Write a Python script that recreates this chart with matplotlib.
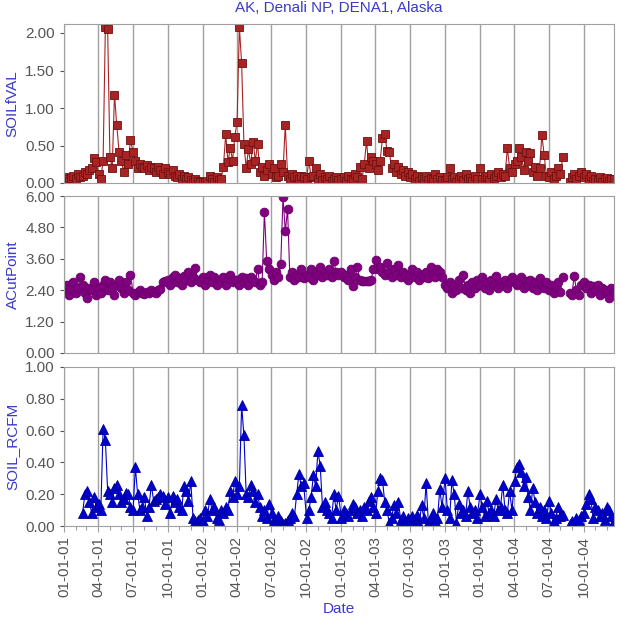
import numpy as np
import pandas as pd
import matplotlib
matplotlib.use("Agg")
import matplotlib.pyplot as plt
import matplotlib.dates as mdates
from matplotlib.ticker import FormatStrFormatter

nan = np.nan

# one row per quarter (2001 Q1 ... 2004 Q4), samples every 6 days
soil_fval = [
    [0.08, 0.05, 0.03, 0.07, 0.10, 0.06, 0.12, 0.08, 0.10, 0.15, 0.12, 0.18, 0.20, 0.33, 0.28],
    [0.12, 0.05, 0.30, 2.08, 2.05, 0.35, 0.20, 1.18, 0.77, 0.42, 0.30, 0.15, 0.38, 0.25, 0.57],
    [0.42, 0.30, 0.20, 0.25, 0.22, 0.20, 0.24, 0.18, 0.22, 0.20, 0.15, 0.22, 0.18, 0.12, 0.20],
    [0.15, 0.12, 0.18, 0.10, 0.08, 0.12, 0.05, 0.10, 0.06, 0.08, 0.04, 0.02, 0.05, 0.03, 0.01],
    [0.02, 0.01, 0.03, 0.10, 0.05, 0.02, 0.08, 0.04, 0.06, 0.22, 0.65, 0.28, 0.47, 0.30, 0.62],
    [0.82, 2.08, 1.60, 0.52, 0.20, 0.45, 0.25, 0.55, 0.30, 0.52, 0.15, 0.22, 0.10, 0.18, 0.25],
    [0.12, 0.20, 0.08, 0.10, 0.25, 0.15, 0.78, 0.10, 0.05, 0.12, 0.08, 0.10, 0.05, 0.10, 0.08],
    [0.05, 0.30, 0.08, 0.10, 0.20, 0.06, 0.12, 0.04, 0.08, 0.05, 0.10, 0.03, 0.06, 0.08, 0.04],
    [0.05, 0.08, 0.03, 0.10, 0.06, 0.04, 0.12, 0.08, 0.22, 0.05, 0.25, 0.56, 0.20, 0.35, 0.30],
    [0.25, 0.18, 0.30, 0.60, 0.66, 0.43, 0.42, 0.20, 0.25, 0.15, 0.22, 0.12, 0.18, 0.10, 0.15],
    [0.08, 0.12, 0.05, 0.10, 0.03, 0.08, 0.06, 0.10, 0.04, 0.07, 0.05, 0.12, 0.06, 0.08, 0.04],
    [0.03, 0.08, 0.20, 0.05, 0.08, 0.02, 0.06, 0.10, 0.04, 0.12, 0.05, 0.07, 0.03, 0.09, 0.05],
    [0.20, 0.05, 0.08, 0.10, 0.04, 0.12, 0.07, 0.10, 0.15, 0.08, 0.12, 0.10, 0.47, 0.20, 0.15],
    [0.25, 0.30, 0.47, 0.35, 0.18, 0.42, 0.30, 0.40, 0.15, 0.22, 0.10, 0.20, 0.64, 0.37, 0.10],
    [0.08, 0.15, 0.05, 0.10, 0.20, 0.12, 0.35, nan, nan, 0.02, 0.08, 0.12, 0.05, 0.10, 0.15],
    [0.08, 0.12, 0.05, 0.10, 0.03, 0.06, 0.04, 0.08, 0.02, 0.05, 0.07, 0.03, 0.06, 0.05],
]

acut_point = [
    [2.4, 2.6, 2.2, 2.5, 2.7, 2.3, 2.5, 2.9, 2.6, 2.3, 2.1, 2.5, 2.4, 2.7, 2.2],
    [2.5, 2.3, 2.6, 2.8, 2.4, 2.7, 2.5, 2.2, 2.6, 2.8, 2.5, 2.3, 2.7, 2.4, 3.0],
    [2.3, 2.2, 2.35, 2.4, 2.3, 2.25, 2.35, 2.3, 2.4, 2.35, 2.3, 2.4, 2.45, 2.7, 2.75],
    [2.8, 2.6, 2.9, 3.0, 2.7, 2.85, 2.6, 2.95, 2.8, 3.1, 2.7, 2.9, 3.25, 2.8, 2.7],
    [2.9, 2.6, 2.8, 3.0, 2.7, 2.9, 2.6, 2.8, 2.75, 2.9, 2.6, 2.85, 3.0, 2.7, 2.8],
    [2.8, 2.6, 2.9, 2.7, 2.85, 2.6, 2.9, 2.8, 2.7, 3.2, 2.6, 2.7, 5.4, 3.5, 3.2],
    [3.0, 2.8, 3.1, 2.9, 3.4, 5.95, 4.65, 5.5, 2.9, 3.1, 2.8, 3.0, 2.9, 3.2, 2.85],
    [3.0, 2.9, 3.2, 2.8, 3.1, 3.0, 3.3, 2.9, 3.1, 3.0, 3.2, 2.9, 3.5, 3.1, 3.0],
    [3.1, 2.9, 3.0, 2.8, 3.2, 2.55, 2.9, 3.3, 2.8, 2.75, 2.75, 2.75, 2.75, 2.8, 3.2],
    [3.55, 3.2, 3.3, 3.1, 3.0, 3.45, 3.1, 2.9, 3.2, 3.0, 3.35, 2.9, 3.1, 3.0, 2.8],
    [3.0, 3.2, 2.9, 3.1, 2.8, 3.0, 2.9, 3.1, 2.85, 3.3, 3.0, 2.9, 3.2, 3.1, 2.9],
    [2.6, 2.5, 2.7, 2.3, 2.6, 2.4, 2.8, 2.5, 3.0, 2.4, 2.6, 2.3, 2.7, 2.5, 2.8],
    [2.6, 2.9, 2.5, 2.7, 2.4, 2.8, 2.6, 2.95, 2.5, 2.7, 2.6, 2.8, 2.5, 2.7, 2.9],
    [2.8, 2.6, 2.7, 2.9, 2.5, 2.75, 2.6, 2.8, 2.5, 2.7, 2.4, 2.85, 2.6, 2.5, 2.7],
    [2.4, 2.6, 2.3, 2.5, 2.7, 2.35, 2.9, nan, nan, 2.3, 2.2, 2.95, 2.4, 2.2, 2.6],
    [2.7, 2.5, 2.6, 2.3, 2.55, 2.4, 2.6, 2.2, 2.5, 2.4, 2.3, 2.1, 2.5, 2.3],
]

soil_rcfm = [
    [nan, nan, nan, nan, nan, nan, nan, nan, 0.08, 0.20, 0.22, 0.15, 0.08, 0.18, 0.12],
    [0.14, 0.10, 0.61, 0.54, 0.22, 0.20, 0.15, 0.24, 0.26, 0.20, 0.15, 0.17, 0.21, 0.20, 0.12],
    [0.10, 0.37, 0.20, 0.10, 0.12, 0.18, 0.06, 0.12, 0.26, 0.16, 0.17, 0.18, 0.20, 0.19, 0.14],
    [0.18, 0.08, 0.19, 0.15, 0.17, 0.12, 0.10, 0.25, 0.22, 0.16, 0.28, 0.05, 0.03, 0.04, 0.05],
    [0.03, 0.10, 0.06, 0.17, 0.10, 0.12, 0.05, 0.04, 0.10, 0.08, 0.12, 0.10, 0.22, 0.18, 0.28],
    [0.20, 0.25, 0.76, 0.57, 0.20, 0.18, 0.26, 0.22, 0.15, 0.20, 0.12, 0.06, 0.10, 0.05, 0.14],
    [0.08, 0.04, 0.02, 0.06, 0.03, 0.01, 0.02, 0.04, 0.05, 0.08, 0.06, 0.20, 0.33, 0.25, 0.27],
    [0.05, 0.10, 0.18, 0.32, 0.25, 0.47, 0.38, 0.12, 0.15, 0.10, 0.08, 0.05, 0.20, 0.10, 0.19],
    [0.05, 0.10, 0.08, 0.06, 0.10, 0.14, 0.12, 0.08, 0.10, 0.06, 0.12, 0.10, 0.16, 0.18, 0.12],
    [0.08, 0.22, 0.30, 0.29, 0.15, 0.10, 0.02, 0.05, 0.13, 0.08, 0.15, 0.04, 0.06, 0.03, 0.05],
    [0.02, 0.06, 0.03, 0.07, 0.01, 0.13, 0.05, 0.27, 0.02, 0.05, 0.08, 0.03, 0.05, 0.23, 0.12],
    [0.30, 0.10, 0.05, 0.29, 0.20, 0.02, 0.14, 0.08, 0.10, 0.06, 0.22, 0.12, 0.08, 0.10, 0.05],
    [0.20, 0.12, 0.06, 0.16, 0.08, 0.10, 0.06, 0.17, 0.10, 0.12, 0.26, 0.10, 0.08, 0.22, 0.10],
    [0.28, 0.37, 0.39, 0.34, 0.25, 0.31, 0.18, 0.10, 0.24, 0.15, 0.08, 0.12, 0.06, 0.10, 0.05],
    [0.16, 0.08, 0.03, 0.05, 0.12, 0.06, 0.07, nan, nan, 0.01, 0.03, 0.02, 0.05, 0.04, 0.06],
    [0.08, 0.14, 0.20, 0.17, 0.05, 0.12, 0.10, 0.06, 0.08, 0.04, 0.12, 0.10, 0.06, 0.03],
]

quarter_starts = pd.date_range("2001-01-01", periods=16, freq="QS")


def to_series(rows):
    dates, vals = [], []
    for start, row in zip(quarter_starts, rows):
        dates.extend(start + pd.to_timedelta(1 + 6 * np.arange(len(row)), unit="D"))
        vals.extend(row)
    return pd.Series(vals, index=pd.DatetimeIndex(dates))


plt.rcParams["font.family"] = ["Liberation Sans", "DejaVu Sans"]
label_blue = "#3a3ac8"
tick_gray = "#555555"
frame_gray = "#a0a0a0"

fig = plt.figure(figsize=(6.21, 6.17), dpi=100)
left, width = 64 / 621, 550 / 621
boxes = [(1 - 183 / 617, 159 / 617), (1 - 353 / 617, 157 / 617), (1 - 526 / 617, 159 / 617)]

panels = [
    ("SOILfVAL", soil_fval, "#a82424", "#6e1010", "s", 6.3, (0, 2.12), [0, 0.5, 1.0, 1.5, 2.0]),
    ("ACutPoint", acut_point, "#800080", "#6a006a", "o", 6.3, (0, 6.0), [0, 1.2, 2.4, 3.6, 4.8, 6.0]),
    ("SOIL_RCFM", soil_rcfm, "#0000d0", "#00009a", "^", 6.5, (0, 1.0), [0, 0.2, 0.4, 0.6, 0.8, 1.0]),
]

xmin, xmax = pd.Timestamp("2001-01-01"), pd.Timestamp("2004-12-20")
axes = []
for (name, rows, col, edge, mk, ms, ylim, yt), (b, h) in zip(panels, boxes):
    ax = fig.add_axes([left, b, width, h])
    s = to_series(rows)
    ax.plot(s.index, s.values, color=col, lw=0.8, marker=mk, ms=ms,
            mfc=col, mec=edge, mew=0.6, clip_on=True)
    ax.set_xlim(xmin, xmax)
    ax.set_ylim(*ylim)
    ax.set_yticks(yt)
    ax.yaxis.set_major_formatter(FormatStrFormatter("%.2f"))
    ax.set_ylabel(name, color=label_blue, fontsize=11, labelpad=4)
    ax.xaxis.set_major_locator(mdates.MonthLocator(bymonth=[1, 4, 7, 10]))
    ax.xaxis.set_minor_locator(mdates.MonthLocator())
    ax.xaxis.set_major_formatter(mdates.DateFormatter("%m-%d-%y"))
    ax.grid(True, axis="x", which="major", color=frame_gray, lw=1.0)
    ax.set_axisbelow(True)
    for sp in ax.spines.values():
        sp.set_color(frame_gray)
    ax.tick_params(axis="y", colors=tick_gray, labelsize=11, length=3, width=0.8)
    ax.tick_params(axis="x", which="both", colors=frame_gray, labelcolor=tick_gray,
                   labelsize=11, length=4, width=0.8)
    ax.tick_params(axis="x", which="minor", length=3)
    axes.append(ax)

for ax in axes[:2]:
    ax.tick_params(axis="x", which="both", labelbottom=False, length=0)

bottom = axes[2]
plt.setp(bottom.get_xticklabels(), rotation=90)
bottom.set_xlabel("Date", color=label_blue, fontsize=11, labelpad=3)

fig.text(left + width / 2, 1 - 8 / 617, "AK, Denali NP, DENA1, Alaska", color=label_blue,
         fontsize=11, ha="center", va="center")

fig.savefig("out.png", dpi=100)
